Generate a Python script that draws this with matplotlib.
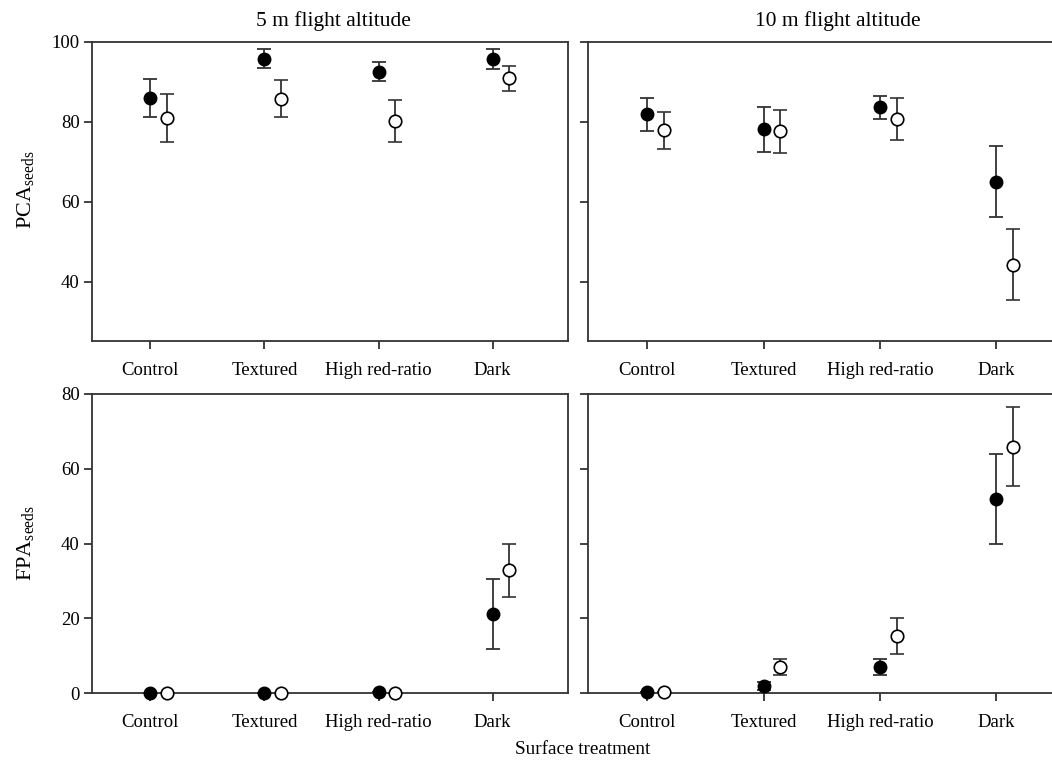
import numpy as np
import matplotlib as mpl
import matplotlib.pyplot as plt

mpl.rcParams['font.family'] = 'Liberation Serif'
mpl.rcParams['mathtext.fontset'] = 'custom'
mpl.rcParams['mathtext.rm'] = 'Liberation Serif'
mpl.rcParams['mathtext.it'] = 'Liberation Serif:italic'

categories = ['Control', 'Textured', 'High red-ratio', 'Dark']
titles = ['5 m flight altitude', '10 m flight altitude']

# PCA seeds, 5 m  (filled = first series, open = second series)
pca5_fill = [86.0, 95.8, 92.6, 95.8]
pca5_fill_lo = [81.3, 93.5, 90.2, 93.3]
pca5_fill_hi = [90.7, 98.2, 95.0, 98.2]
pca5_open = [81.0, 85.8, 80.2, 90.9]
pca5_open_lo = [75.0, 81.3, 75.0, 87.7]
pca5_open_hi = [87.0, 90.5, 85.6, 94.0]

# PCA seeds, 10 m
pca10_fill = [82.0, 78.2, 83.7, 65.1]
pca10_fill_lo = [77.8, 72.6, 80.7, 56.3]
pca10_fill_hi = [86.1, 83.7, 86.6, 74.0]
pca10_open = [77.9, 77.7, 80.8, 44.3]
pca10_open_lo = [73.2, 72.3, 75.6, 35.4]
pca10_open_hi = [82.4, 82.9, 86.0, 53.2]

# FPA seeds, 5 m
fpa5_fill = [0.0, 0.0, 0.2, 21.1]
fpa5_fill_lo = [0.0, 0.0, 0.2, 11.8]
fpa5_fill_hi = [0.0, 0.0, 0.2, 30.6]
fpa5_open = [0.0, 0.0, 0.0, 32.8]
fpa5_open_lo = [0.0, 0.0, 0.0, 25.7]
fpa5_open_hi = [0.0, 0.0, 0.0, 39.8]

# FPA seeds, 10 m
fpa10_fill = [0.3, 1.9, 6.9, 51.9]
fpa10_fill_lo = [0.3, 0.9, 4.7, 39.8]
fpa10_fill_hi = [0.3, 3.0, 9.0, 63.9]
fpa10_open = [0.2, 7.0, 15.2, 65.9]
fpa10_open_lo = [0.2, 4.9, 10.4, 55.3]
fpa10_open_hi = [0.2, 9.1, 20.0, 76.5]

W, H = 1052, 761
fig = plt.figure(figsize=(W / 100, H / 100), dpi=100)


def px_axes(x0, x1, y0, y1):
    return fig.add_axes([x0 / W, 1 - y1 / H, (x1 - x0) / W, (y1 - y0) / H])


def draw(ax, fill, flo, fhi, opn, olo, ohi, ylim, yticks, show_ylab):
    x = np.arange(1, 5)
    fill, flo, fhi = np.array(fill), np.array(flo), np.array(fhi)
    opn, olo, ohi = np.array(opn), np.array(olo), np.array(ohi)
    ekw = dict(fmt='o', ms=9, ecolor='#333333', elinewidth=1.3, capsize=5,
               capthick=1.3, clip_on=False, zorder=3)
    ax.errorbar(x, fill, yerr=[fill - flo, fhi - fill], mfc='black', mec='black', **ekw)
    ax.errorbar(x + 0.145, opn, yerr=[opn - olo, ohi - opn], mfc='white', mec='black',
                mew=1.2, **ekw)
    ax.set_xlim(0.49, 4.66)
    ax.set_ylim(*ylim)
    ax.set_xticks(x)
    ax.set_xticklabels(categories, fontsize=13.5)
    ax.set_yticks(yticks)
    if show_ylab:
        ax.set_yticklabels([str(t) for t in yticks], fontsize=13.5)
    else:
        ax.set_yticklabels([])
    ax.tick_params(direction='out', length=6, width=1.3, color='#333333', pad=9)
    ax.tick_params(axis='y', pad=3)
    for s in ax.spines.values():
        s.set_linewidth(1.3)
        s.set_color('#333333')


ax1 = px_axes(92, 568, 42, 341)
ax2 = px_axes(588, 1073, 42, 341)
ax3 = px_axes(92, 568, 394, 693)
ax4 = px_axes(588, 1073, 394, 693)

draw(ax1, pca5_fill, pca5_fill_lo, pca5_fill_hi, pca5_open, pca5_open_lo, pca5_open_hi,
     (25.2, 100), [40, 60, 80, 100], True)
draw(ax2, pca10_fill, pca10_fill_lo, pca10_fill_hi, pca10_open, pca10_open_lo, pca10_open_hi,
     (25.2, 100), [40, 60, 80, 100], False)
draw(ax3, fpa5_fill, fpa5_fill_lo, fpa5_fill_hi, fpa5_open, fpa5_open_lo, fpa5_open_hi,
     (0, 80), [0, 20, 40, 60, 80], True)
draw(ax4, fpa10_fill, fpa10_fill_lo, fpa10_fill_hi, fpa10_open, fpa10_open_lo, fpa10_open_hi,
     (0, 80), [0, 20, 40, 60, 80], False)

fig.text(333 / W, 1 - 21 / H, titles[0], ha='center', va='center', fontsize=15.5)
fig.text(838 / W, 1 - 21 / H, titles[1], ha='center', va='center', fontsize=15.5)
fig.text(25 / W, 1 - 190 / H, r'PCA$_{\mathrm{seeds}}$', rotation=90, ha='center',
         va='center', fontsize=16)
fig.text(25 / W, 1 - 543 / H, r'FPA$_{\mathrm{seeds}}$', rotation=90, ha='center',
         va='center', fontsize=16)
fig.text(583 / W, 1 - 750 / H, 'Surface treatment', ha='center', va='center', fontsize=13.8)

fig.savefig('out.png', dpi=100)
